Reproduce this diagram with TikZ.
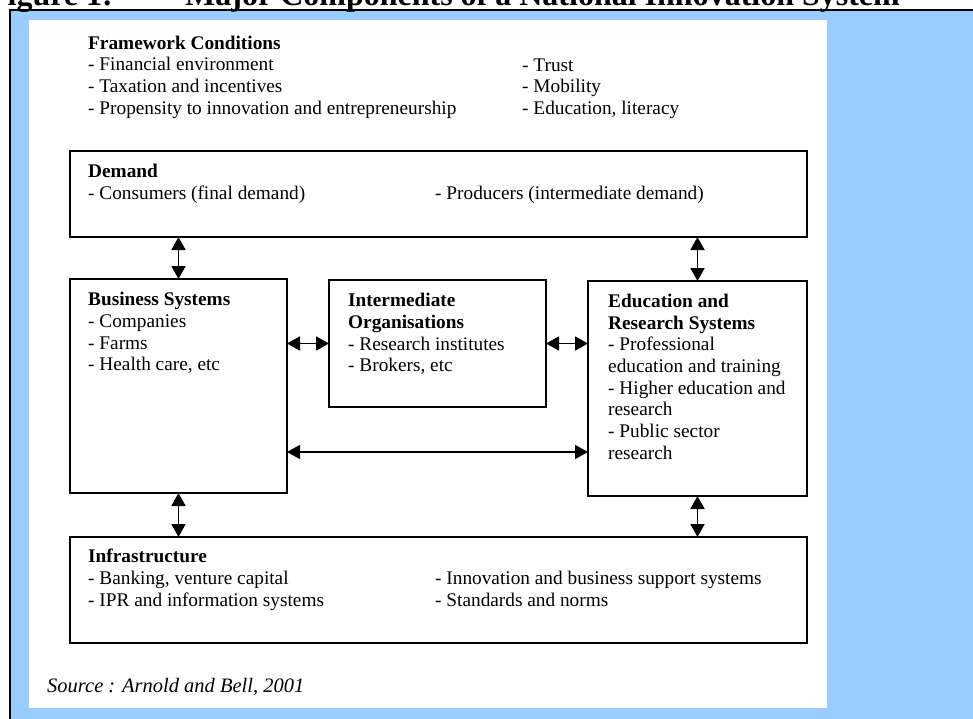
\documentclass[tikz,border=0pt]{standalone}
\usepackage{fontspec}
\setmainfont{Liberation Serif}
\usetikzlibrary{positioning,arrows.meta}
\definecolor{panelblue}{RGB}{153,204,255}
\tikzset{
  box/.style={draw, line width=1.7pt, inner sep=0pt, outer sep=0pt, anchor=north west},
  txt/.style={anchor=north west, align=left, inner sep=0pt,
    font=\fontsize{19.3pt}{21.7pt}\selectfont},
  link/.style={{Triangle[length=13pt,width=14pt]}-{Triangle[length=13pt,width=14pt]},
    line width=1.8pt},
  title/.style={anchor=base west, inner sep=0pt, font=\fontsize{32pt}{36pt}\selectfont\bfseries}
}
\begin{document}
\begin{tikzpicture}[x=1pt,y=-1pt]
\useasboundingbox (0,0) rectangle (973,719);
% frame and panel
\draw[fill=panelblue, line width=1.5pt] (10,10) rectangle (1000,750);
\fill[white] (29,20) rectangle (827,708);
% title
\node[title, anchor=base east] (fignum) at (113,6) {Figure 1:};
\node[title] (figtitle) at (185,6) {Major Components of a National Innovation System};
% framework conditions
\node[txt] (frame) at (88,33.8) {\strut\textbf{Framework Conditions}\\
- Financial environment\\
- Taxation and incentives\\
- Propensity to innovation and entrepreneurship};
\node[txt] (frameb) at (522,55.8) {\strut- Trust\\
- Mobility\\
- Education, literacy};
% boxes
\node[box, minimum width=737pt, minimum height=86pt] (demand) at (70,151) {};
\node[box, minimum width=217pt, minimum height=214pt,
  below right=42pt and 0pt of demand.south west] (business) {};
\node[box, minimum width=217pt, minimum height=127pt,
  below right=1pt and 42pt of business.north east] (inter) {};
\node[box, minimum width=219pt, minimum height=215pt,
  below right=1pt and 42pt of inter.north east] (edu) {};
\node[box, minimum width=737pt, minimum height=106pt,
  below right=44pt and 0pt of business.south west] (infra) {};
% box texts
\node[txt] (demanda) at ([shift={(18pt,-11.3pt)}]demand.north west) {\strut\textbf{Demand}\\
- Consumers (final demand)};
\node[txt] (demandb) at ([shift={(365pt,-33pt)}]demand.north west)
  {\strut- Producers (intermediate demand)};
\node[txt] (businesst) at ([shift={(18pt,-11.5pt)}]business.north west) {\strut\textbf{Business Systems}\\
- Companies\\
- Farms\\
- Health care, etc};
\node[txt] (intert) at ([shift={(19pt,-11.5pt)}]inter.north west) {\strut\textbf{Intermediate}\\
\textbf{Organisations}\\
- Research institutes\\
- Brokers, etc};
\node[txt] (edut) at ([shift={(20pt,-11.1pt)}]edu.north west) {\strut\textbf{Education and}\\
\textbf{Research Systems}\\
- Professional\\
education and training\\
- Higher education and\\
research\\
- Public sector\\
research};
\node[txt] (infraa) at ([shift={(18pt,-10.5pt)}]infra.north west) {\strut\textbf{Infrastructure}\\
- Banking, venture capital\\
- IPR and information systems};
\node[txt] (infrab) at ([shift={(365pt,-32.2pt)}]infra.north west)
  {\strut- Innovation and business support systems\\
- Standards and norms};
\node[anchor=base west, inner sep=0pt, font=\fontsize{20.5pt}{24pt}\selectfont\itshape]
  (source) at (47,692) {Source : Arnold and Bell, 2001};
% links
\draw[link] (demand.south -| business.north) -- (business.north);
\draw[link] (demand.south -| edu.north) -- (edu.north);
\draw[link] (business.east |- inter.west) -- (inter.west);
\draw[link] (inter.east) -- (inter.east -| edu.west);
\draw[link] ([yshift=41pt]business.south east) -- ([yshift=41pt]business.south east -| edu.west);
\draw[link] (business.south) -- (business.south |- infra.north);
\draw[link] (edu.south) -- (edu.south |- infra.north);
\end{tikzpicture}
\end{document}
